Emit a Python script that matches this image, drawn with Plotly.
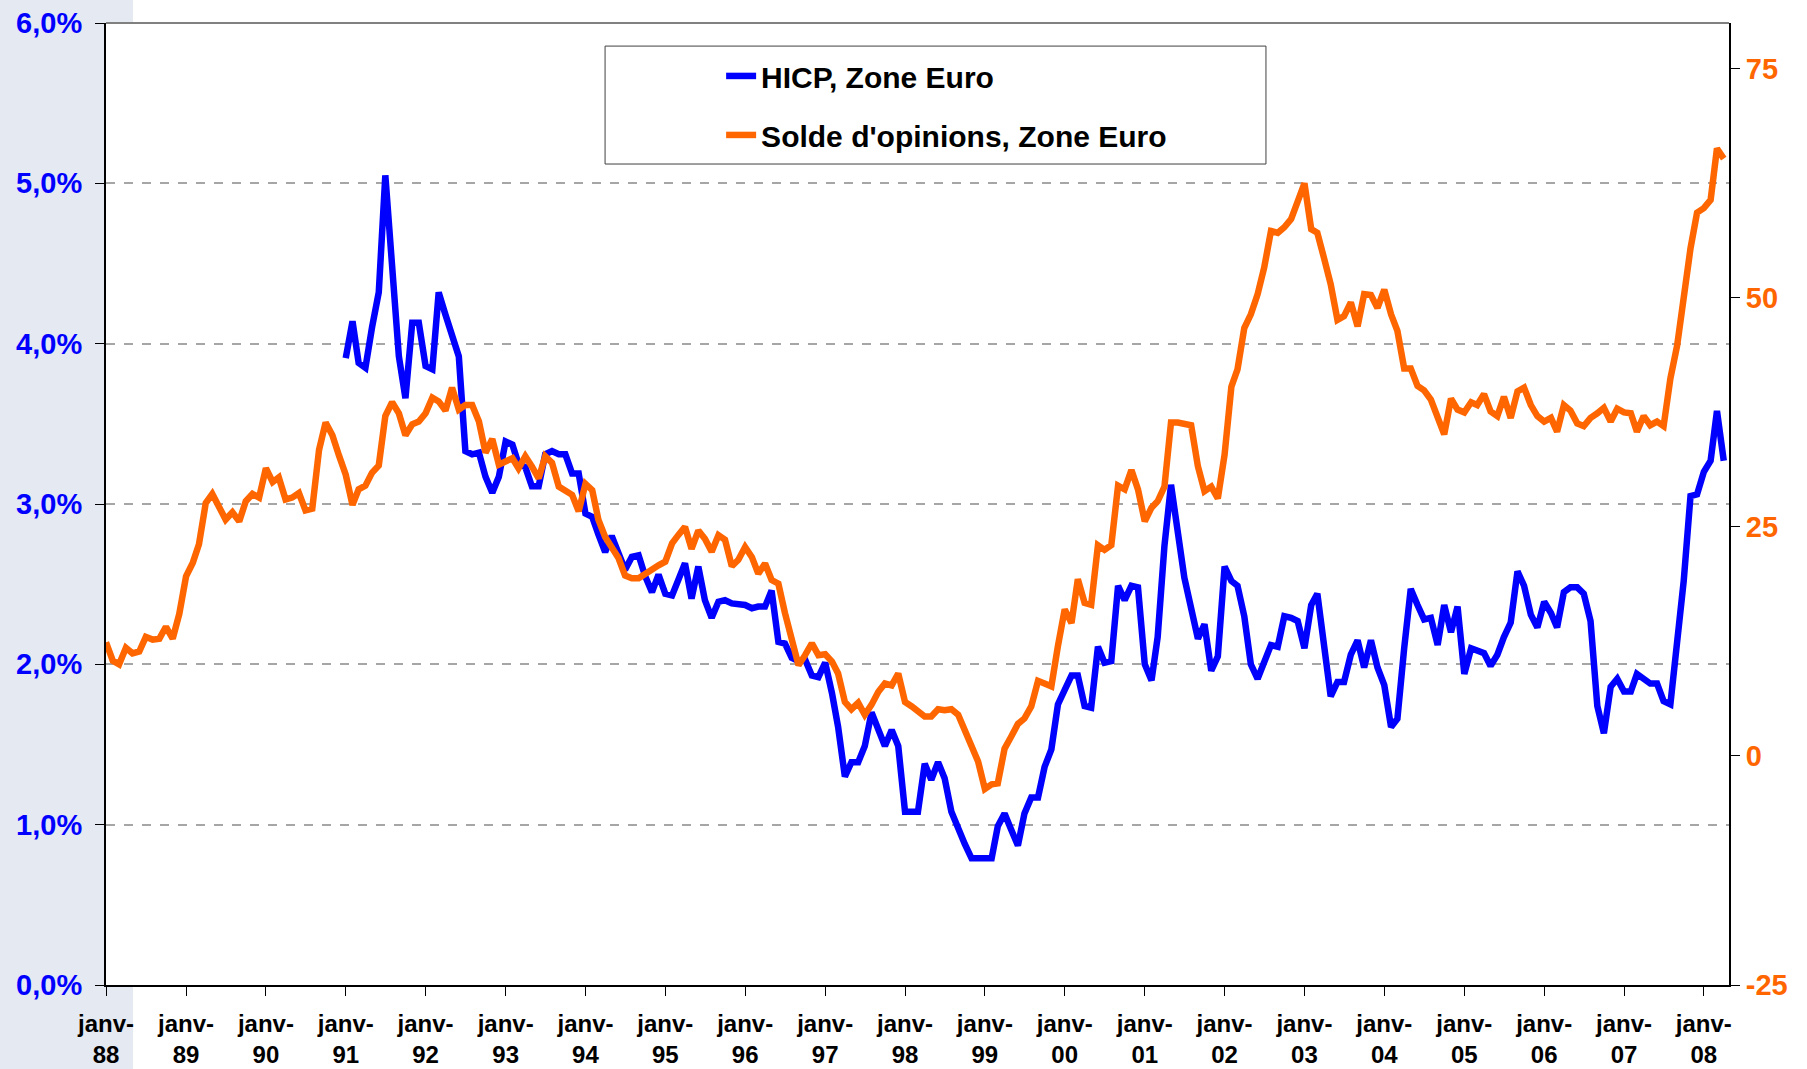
import pandas as pd
import plotly.graph_objects as go


# =====================================================
# Data (monthly, janv-88 .. avr-08)
# =====================================================
start_month = "1988-01-01"

# HICP, Zone Euro (%), from janv-91
hicp = [
    3.91, 4.14, 3.88, 3.85, 4.10, 4.32, 5.05, 4.50, 3.92, 3.66, 4.13, 4.13,
    3.86, 3.84, 4.32, 4.18, 4.06, 3.92, 3.33, 3.31, 3.32, 3.17, 3.07, 3.17,
    3.39, 3.37, 3.25, 3.23, 3.11, 3.11, 3.31, 3.33, 3.31, 3.31, 3.19, 3.19,
    2.94, 2.92, 2.81, 2.70, 2.80, 2.69, 2.59, 2.67, 2.68, 2.55, 2.45, 2.56,
    2.44, 2.43, 2.52, 2.63, 2.41, 2.61, 2.40, 2.29, 2.39, 2.40, 2.38, 2.38,
    2.37, 2.35, 2.36, 2.36, 2.46, 2.14, 2.13, 2.04, 2.02, 2.03, 1.93, 1.92,
    2.01, 1.82, 1.61, 1.30, 1.39, 1.39, 1.49, 1.70, 1.59, 1.49, 1.59, 1.49,
    1.08, 1.08, 1.08, 1.38, 1.28, 1.39, 1.29, 1.08, 0.97, 0.88, 0.79, 0.79,
    0.79, 0.79, 0.99, 1.07, 0.97, 0.87, 1.07, 1.17, 1.17, 1.36, 1.47, 1.75,
    1.84, 1.93, 1.93, 1.74, 1.73, 2.11, 2.01, 2.02, 2.49, 2.40, 2.49, 2.48,
    2.00, 1.90, 2.17, 2.74, 3.12, 2.84, 2.54, 2.35, 2.16, 2.25, 1.96, 2.05,
    2.61, 2.52, 2.49, 2.30, 2.00, 1.91, 2.02, 2.12, 2.11, 2.30, 2.29, 2.27,
    2.10, 2.37, 2.44, 2.07, 1.80, 1.89, 1.89, 2.06, 2.15, 1.98, 2.15, 1.98,
    1.87, 1.61, 1.66, 2.10, 2.47, 2.37, 2.28, 2.29, 2.12, 2.37, 2.20, 2.36,
    1.94, 2.10, 2.09, 2.07, 1.99, 2.06, 2.17, 2.26, 2.58, 2.49, 2.31, 2.23,
    2.39, 2.32, 2.23, 2.45, 2.48, 2.48, 2.44, 2.27, 1.74, 1.57, 1.86, 1.91,
    1.83, 1.83, 1.94, 1.91, 1.88, 1.88, 1.77, 1.75, 2.10, 2.52, 3.05, 3.06,
    3.20, 3.27, 3.58, 3.27,
]
hicp_start = "1991-01-01"

# Solde d'opinions, Zone Euro, from janv-88
solde = [
    12.4, 10.4, 10.0, 11.8, 11.2, 11.4, 13.0, 12.7, 12.8, 14.1, 12.8, 15.5,
    19.6, 21.1, 23.1, 27.6, 28.6, 27.2, 25.8, 26.6, 25.6, 27.8, 28.6, 28.2,
    31.4, 29.9, 30.4, 28.0, 28.2, 28.7, 26.8, 27.0, 33.4, 36.4, 35.0, 32.8,
    30.7, 27.4, 29.1, 29.5, 30.9, 31.7, 37.1, 38.6, 37.4, 35.0, 36.2, 36.5,
    37.4, 39.1, 38.7, 37.7, 40.2, 37.8, 38.3, 38.3, 36.5, 33.1, 34.6, 31.8,
    32.1, 32.5, 31.4, 32.7, 31.6, 30.3, 32.7, 32.0, 29.4, 29.0, 28.5, 26.7,
    29.7, 29.0, 25.8, 23.9, 22.8, 21.6, 19.7, 19.4, 19.4, 19.9, 20.4, 20.8,
    21.2, 23.2, 24.1, 25.0, 22.6, 24.6, 23.7, 22.3, 24.1, 23.6, 20.7, 21.4,
    22.8, 21.7, 19.9, 21.0, 19.2, 18.8, 15.6, 12.7, 9.9, 11.0, 12.3, 11.0,
    11.1, 10.3, 9.0, 5.9, 5.1, 5.8, 4.5, 5.6, 7.0, 7.9, 7.7, 9.0,
    5.9, 5.4, 4.8, 4.3, 4.3, 5.1, 5.0, 5.1, 4.5, 2.8, 1.0, -0.6,
    -3.6, -3.1, -3.0, 0.8, 2.1, 3.5, 4.1, 5.4, 8.2, 7.9, 7.6, 12.0,
    16.0, 14.5, 19.3, 16.7, 16.5, 23.0, 22.5, 23.0, 29.5, 29.1, 31.2, 29.1,
    25.6, 27.1, 27.8, 29.4, 36.4, 36.4, 36.3, 36.1, 31.6, 28.9, 29.4, 28.1,
    32.9, 40.3, 42.2, 46.7, 48.2, 50.4, 53.3, 57.3, 57.1, 57.7, 58.6, 60.6,
    62.5, 57.5, 57.1, 54.3, 51.5, 47.6, 48.0, 49.5, 46.9, 50.4, 50.3, 48.9,
    50.9, 48.2, 46.4, 42.3, 42.3, 40.4, 39.9, 38.9, 36.9, 35.1, 39.0, 37.8,
    37.5, 38.6, 38.3, 39.5, 37.6, 37.1, 39.2, 36.9, 39.8, 40.2, 38.3, 37.1,
    36.5, 36.9, 35.4, 38.3, 37.7, 36.3, 36.0, 36.9, 37.4, 38.0, 36.5, 37.9,
    37.5, 37.4, 35.4, 37.1, 36.1, 36.5, 36.0, 41.2, 44.8, 50.2, 55.4, 59.3,
    59.8, 60.7, 66.3, 65.2,
]

# Axis ticks
year_ticks = list(range(1988, 2009))
left_ticks = [0, 1, 2, 3, 4, 5, 6]
left_labels = ["0,0%", "1,0%", "2,0%", "3,0%", "4,0%", "5,0%", "6,0%"]
right_ticks = [-25, 0, 25, 50, 75]
right_labels = ["-25", "0", "25", "50", "75"]

BLUE = "#0000FF"
ORANGE = "#FF6600"
FONT = "Liberation Sans, Arial, sans-serif"


# =====================================================
# Figure
# =====================================================
def draw_chart():
    months_solde = pd.date_range(start_month, periods=len(solde), freq="MS")
    months_hicp = pd.date_range(hicp_start, periods=len(hicp), freq="MS")

    fig = go.Figure()

    fig.add_trace(
        go.Scatter(
            x=months_hicp,
            y=hicp,
            mode="lines",
            name="HICP, Zone Euro",
            legendgroup="a",
            line=dict(color=BLUE, width=6.5),
            yaxis="y"
        )
    )

    fig.add_trace(
        go.Scatter(
            x=months_solde,
            y=solde,
            mode="lines",
            name="Solde d'opinions, Zone Euro",
            legendgroup="b",
            line=dict(color=ORANGE, width=6.5),
            yaxis="y2"
        )
    )

    fig.update_layout(
        width=1807,
        height=1069,
        plot_bgcolor="white",
        paper_bgcolor="white",
        margin=dict(l=106, r=78, t=23, b=84),
        font=dict(family=FONT),
        showlegend=True,
        legend=dict(
            x=0.379,
            y=0.972,
            xanchor="left",
            yanchor="top",
            bgcolor="rgba(0,0,0,0)",
            borderwidth=0,
            tracegroupgap=17,
            font=dict(size=30, color="black", weight="bold")
        ),
        xaxis=dict(
            type="date",
            range=["1988-01-01", "2008-04-25"],
            tickvals=[f"{y}-01-01" for y in year_ticks],
            ticktext=[f"janv-<br>{str(y)[2:]}" for y in year_ticks],
            tickfont=dict(size=24, color="black", weight="bold"),
            ticks="outside",
            ticklen=9,
            tickcolor="black",
            ticklabelstandoff=7,
            showgrid=False,
            showline=True,
            linecolor="black",
            linewidth=2,
            zeroline=False,
            automargin=False
        ),
        yaxis=dict(
            range=[0, 6],
            tickvals=left_ticks,
            ticktext=left_labels,
            tickfont=dict(size=29, color=BLUE, weight="bold"),
            ticks="outside",
            ticklen=9,
            tickcolor="black",
            ticklabelstandoff=7,
            showgrid=True,
            gridcolor="#A6A6A6",
            gridwidth=1.5,
            griddash="dash",
            showline=True,
            linecolor="black",
            linewidth=2,
            zeroline=False,
            automargin=False
        ),
        yaxis2=dict(
            overlaying="y",
            side="right",
            range=[-25, 80],
            tickvals=right_ticks,
            ticktext=right_labels,
            tickfont=dict(size=29, color=ORANGE, weight="bold"),
            ticks="outside",
            ticklen=9,
            tickcolor="black",
            showgrid=False,
            showline=True,
            linecolor="black",
            linewidth=2,
            zeroline=False,
            automargin=False
        )
    )

    # light band at the left edge, then the white plot area over it
    fig.add_shape(
        type="rect", xref="paper", yref="paper",
        x0=-0.066, x1=0.0166, y0=-0.09, y1=1.03,
        fillcolor="#E4E9F2", line_width=0, layer="below"
    )
    fig.add_shape(
        type="rect", xref="paper", yref="paper",
        x0=0, x1=1, y0=0, y1=1,
        fillcolor="white", line_width=0, layer="below"
    )

    # grey top border of the plot area
    fig.add_shape(
        type="line", xref="paper", yref="paper",
        x0=0, x1=1, y0=1, y1=1,
        line=dict(color="#808080", width=2)
    )

    # legend frame
    fig.add_shape(
        type="rect", xref="paper", yref="paper",
        x0=0.3075, x1=0.7147, y0=0.8534, y1=0.976,
        line=dict(color="#404040", width=1), fillcolor="white", layer="below"
    )

    return fig


fig = draw_chart()
fig.write_html(
    "out.html",
    config={"displayModeBar": False},
    post_script="document.body.style.margin='0';"
)
